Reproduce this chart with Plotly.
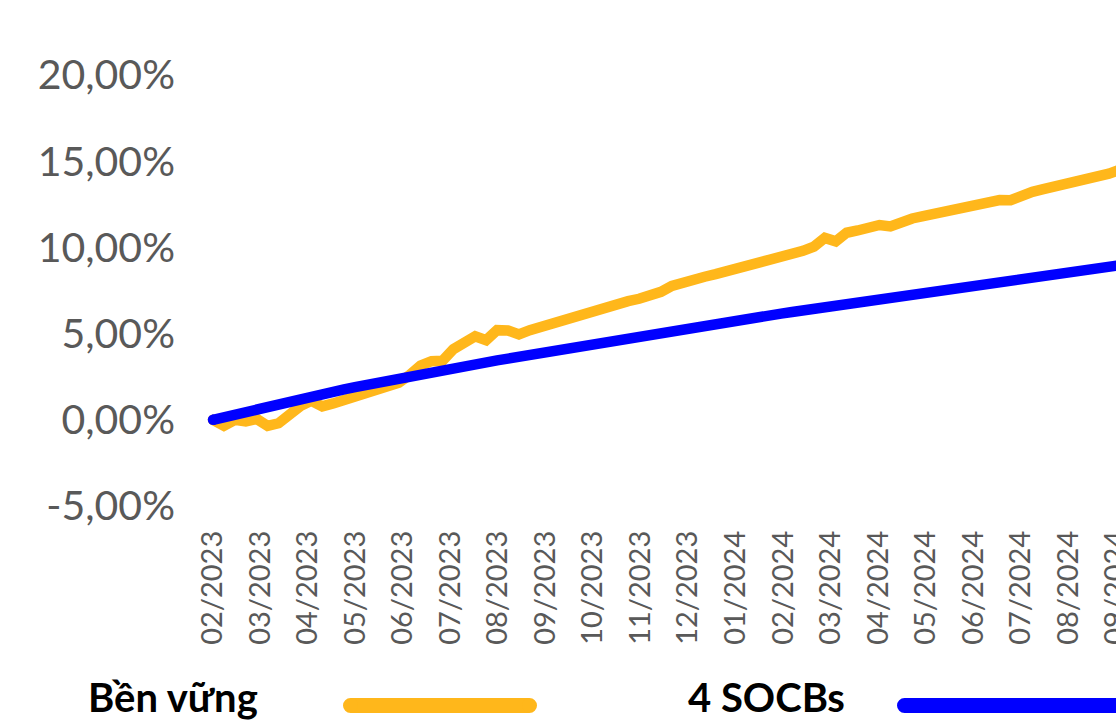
import plotly.graph_objects as go

# Cumulative return (%) at each weekly observation, starting 02/2023
ben_vung = [
    0.00, -0.35, 0.00, -0.10, 0.05, -0.35, -0.20, 0.35, 0.80, 1.10,
    0.78, 0.95, 1.15, 1.30, 1.50, 1.72, 1.90, 2.15, 2.60, 3.15,
    3.40, 3.42, 4.10, 4.40, 4.85, 4.62, 5.20, 5.18, 4.95, 5.20,
    5.40, 5.55, 5.75, 5.90, 6.10, 6.35, 6.55, 6.72, 6.88, 7.02,
    7.17, 7.42, 7.77, 7.90, 8.08, 8.30, 8.45, 8.60, 8.75, 8.95,
    9.12, 9.30, 9.48, 9.60, 9.80, 10.05, 10.55, 10.35, 10.85, 10.98,
    11.12, 11.30, 11.22, 11.52, 11.68, 11.82, 11.97, 12.00, 12.24, 12.35,
    12.50, 12.65, 12.75, 12.74, 13.05, 13.22, 13.38, 13.52, 13.60, 13.80,
    13.98, 14.05, 14.28, 14.50, 14.62,
]

socbs = [
    0.00, 0.16, 0.32, 0.48, 0.64, 0.79, 0.94, 1.09, 1.23, 1.37,
    1.51, 1.64, 1.77, 1.90, 2.03, 2.15, 2.28, 2.40, 2.52, 2.65,
    2.77, 2.89, 3.01, 3.12, 3.23, 3.34, 3.45, 3.55, 3.66, 3.76,
    3.87, 3.97, 4.07, 4.17, 4.28, 4.38, 4.48, 4.58, 4.69, 4.79,
    4.97, 5.07, 5.17, 5.28, 5.38, 5.48, 5.58, 5.68, 5.78, 5.88,
    5.97, 6.06, 6.16, 6.25, 6.34, 6.43, 6.52, 6.62, 6.71, 6.80,
    6.89, 6.98, 7.08, 7.17, 7.26, 7.35, 7.45, 7.54, 7.63, 7.72,
    7.81, 7.90, 7.99, 8.08, 8.18, 8.27, 8.36, 8.45, 8.54, 8.63,
    8.71, 8.80, 8.89, 8.98, 9.06,
]

month_labels = [
    "02/2023", "03/2023", "04/2023", "05/2023", "06/2023", "07/2023",
    "08/2023", "09/2023", "10/2023", "11/2023", "12/2023", "01/2024",
    "02/2024", "03/2024", "04/2024", "05/2024", "06/2024", "07/2024",
    "08/2024", "09/2024",
]

y_tick_values = [-5, 0, 5, 10, 15, 20]
y_tick_labels = ["-5,00%", "0,00%", "5,00%", "10,00%", "15,00%", "20,00%"]

series_names = ["Bền vững", "4 SOCBs"]
series_colors = ["#FFB71B", "#0000FF"]

weeks = list(range(len(ben_vung)))
weeks_per_month = 365.25 / 12 / 7
month_ticks = [k * weeks_per_month for k in range(len(month_labels))]

W, H = 1116, 721
L, R, T, B = 190, 0, 75, 215
plot_w = W - L - R
plot_h = H - T - B

fig = go.Figure()
for name, vals, color in zip(series_names, [ben_vung, socbs], series_colors):
    fig.add_trace(go.Scatter(
        x=weeks, y=vals, mode="lines", name=name,
        line=dict(color=color, width=10.5),
        showlegend=False, hoverinfo="skip",
    ))
    # round start cap
    fig.add_trace(go.Scatter(
        x=weeks[:1], y=vals[:1], mode="markers",
        marker=dict(color=color, size=10.5, line=dict(width=0)),
        showlegend=False, hoverinfo="skip", cliponaxis=False,
    ))

axis_font = dict(family="Lato", color="#595959")

fig.update_layout(
    width=W, height=H,
    margin=dict(l=L, r=R, t=T, b=B, pad=0, autoexpand=False),
    paper_bgcolor="white", plot_bgcolor="white",
    showlegend=False,
    xaxis=dict(
        range=[-2.105, 82.65], automargin=False,
        tickmode="array", tickvals=month_ticks, ticktext=month_labels,
        tickangle=-90, tickfont=dict(size=29, **axis_font),
        ticks="", ticklabelstandoff=18, ticklabeloverflow="allow",
        showgrid=False, zeroline=False, showline=False,
    ),
    yaxis=dict(
        range=[-5, 20], automargin=False,
        tickmode="array", tickvals=y_tick_values, ticktext=y_tick_labels,
        tickfont=dict(size=41, **axis_font),
        ticks="", ticklabelstandoff=14,
        showgrid=False, zeroline=False, showline=False,
    ),
)

# Custom legend: label followed by a rounded stroke in the series colour
legend_y_px = 705.5
legend_items = [
    (86, 350.5, 529.5),
    (686, 904.5, 1250.0),
]
def px_to_paper_x(px):
    return (px - L) / plot_w

def px_to_paper_y(py):
    return (H - B - py) / plot_h

stroke = 15
for name, color, (tx, x0, x1) in zip(series_names, series_colors, legend_items):
    fig.add_annotation(
        x=px_to_paper_x(tx), y=px_to_paper_y(697), xref="paper", yref="paper",
        text=name, showarrow=False, xanchor="left", yanchor="middle",
        font=dict(family="Lato", size=40, color="black", weight="bold"),
    )
    yy = px_to_paper_y(legend_y_px)
    fig.add_shape(
        type="line", xref="paper", yref="paper",
        x0=px_to_paper_x(x0), x1=px_to_paper_x(x1), y0=yy, y1=yy,
        line=dict(color=color, width=stroke),
    )
    for cx in (x0, x1):
        fig.add_shape(
            type="circle", xref="paper", yref="paper",
            xsizemode="pixel", ysizemode="pixel",
            xanchor=px_to_paper_x(cx), yanchor=yy,
            x0=-stroke / 2, x1=stroke / 2, y0=-stroke / 2, y1=stroke / 2,
            fillcolor=color, line=dict(width=0),
        )

fig.write_html("out.html")
